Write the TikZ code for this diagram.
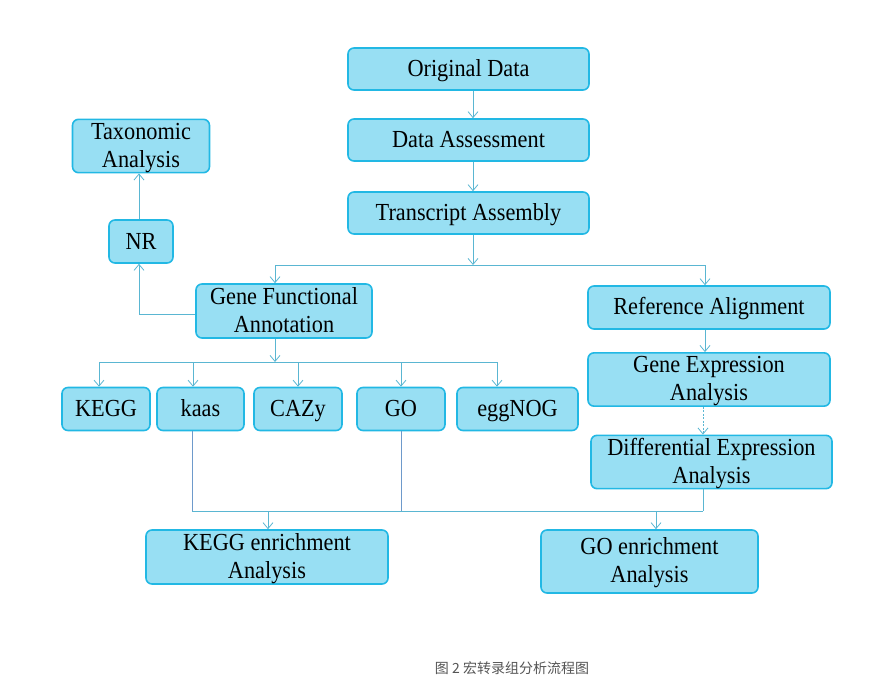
\documentclass[tikz,border=0pt]{standalone}
\usepackage{fontspec}
\setmainfont{Liberation Serif}[FakeStretch=0.91]
\newfontfamily\cjk{Noto Sans CJK SC}
\usetikzlibrary{arrows.meta}
\newcommand\bxst{\rule[-4.5pt]{0pt}{24.5pt}}
\definecolor{boxfill}{HTML}{98DFF3}
\definecolor{boxline}{HTML}{22B8E4}
\definecolor{conn}{HTML}{5AB6D2}
\definecolor{conn2}{HTML}{6E9ACB}
\definecolor{capcol}{HTML}{555555}
\tikzset{
  box/.style={draw=boxline, fill=boxfill, line width=1.6pt, rounded corners=6pt,
    align=center, inner sep=0pt, font=\fontsize{24.5}{28}\selectfont, text=black},
  conline/.style={draw=conn, line width=0.8pt},
  conline2/.style={draw=conn2, line width=0.8pt},
  arr/.style={conline, -{Straight Barb[length=6pt,width=10pt,line width=0.8pt]}},
}
\begin{document}
\begin{tikzpicture}[x=1pt,y=-1pt]
\useasboundingbox (0,0) rectangle (895,693);
% boxes
\node[box, minimum width=241, minimum height=42] (orig) at (468.5,69) {\bxst Original Data};
\node[box, minimum width=241, minimum height=42] (assess) at (468.5,140) {\bxst Data Assessment};
\node[box, minimum width=241, minimum height=42] (trans) at (468.5,213) {\bxst Transcript Assembly};
\node[box, minimum width=137, minimum height=52] (tax) at (141,146) {\bxst Taxonomic\\Analysis\bxst};
\node[box, minimum width=64, minimum height=43] (nr) at (141,241.5) {\bxst NR};
\node[box, minimum width=176, minimum height=54] (gfa) at (284,311) {\bxst Gene Functional\\Annotation\bxst};
\node[box, minimum width=242, minimum height=43] (ra) at (709,307.5) {\bxst Reference Alignment};
\node[box, minimum width=242, minimum height=53] (gea) at (709,379.5) {\bxst Gene Expression\\Analysis\bxst};
\node[box, minimum width=241, minimum height=52] (dea) at (711.5,462) {\bxst Differential Expression\\Analysis\bxst};
\node[box, minimum width=88, minimum height=43] (kegg) at (106,409) {\bxst KEGG};
\node[box, minimum width=87, minimum height=43] (kaas) at (200.5,409) {\bxst kaas};
\node[box, minimum width=88, minimum height=43] (cazy) at (298,409) {\bxst CAZy};
\node[box, minimum width=88, minimum height=43] (go) at (401,409) {\bxst GO};
\node[box, minimum width=121, minimum height=43] (egg) at (517.5,409) {\bxst eggNOG};
\node[box, minimum width=242, minimum height=54] (ke) at (267,557) {\bxst KEGG enrichment\\Analysis\bxst};
\node[box, minimum width=217, minimum height=63] (ge) at (649.5,561.5) {\bxst GO enrichment\\Analysis\bxst};
% caption
\node[font=\cjk\fontsize{14}{17}\selectfont, text=capcol, inner sep=0pt] (cap) at (512,668) {图 2 宏转录组分析流程图};
% junction coordinates
\coordinate (j1) at (473,265);
\coordinate (j1l) at (275,265);
\coordinate (j1r) at (705,265);
\coordinate (j2) at (275,362);
\coordinate (j2l) at (99,362);
\coordinate (j2r) at (497,362);
\coordinate (j3l) at (192,511);
\coordinate (j3r) at (703,511);
% top chain
\draw[arr] (orig.south -| j1) -- (assess.north -| j1);
\draw[arr] (assess.south -| j1) -- (trans.north -| j1);
\draw[arr] (trans.south -| j1) -- (j1);
\draw[conline] (j1l) -- (j1r);
\draw[arr] (j1l) -- (gfa.north -| j1l);
\draw[arr] (j1r) -- (ra.north -| j1r);
% left branch
\draw[arr] (gfa.west |- 0,314) -- (139,314) -- (nr.south -| 139,0);
\draw[arr] (nr.north -| 139,0) -- (tax.south -| 139,0);
% databases
\draw[arr] (gfa.south -| j2) -- (j2);
\draw[conline] (j2l) -- (j2r);
\draw[arr] (j2l) -- (kegg.north -| j2l);
\draw[arr] (193,362) -- (kaas.north -| 193,0);
\draw[arr] (298,362) -- (cazy.north -| 298,0);
\draw[arr] (401,362) -- (go.north -| 401,0);
\draw[arr] (j2r) -- (egg.north -| j2r);
% right chain
\draw[arr] (ra.south -| j1r) -- (gea.north -| j1r);
\draw[arr, dashed, dash pattern=on 2pt off 1.5pt] (gea.south -| j3r) -- (dea.north -| j3r);
% enrichment
\draw[conline2] (kaas.south -| j3l) -- (j3l);
\draw[conline2] (go.south -| 401,0) -- (401,511);
\draw[conline] (dea.south -| j3r) -- (j3r);
\draw[conline] (j3l) -- (j3r);
\draw[arr] (268,511) -- (ke.north -| 268,0);
\draw[arr] (656,511) -- (ge.north -| 656,0);
\end{tikzpicture}
\end{document}
